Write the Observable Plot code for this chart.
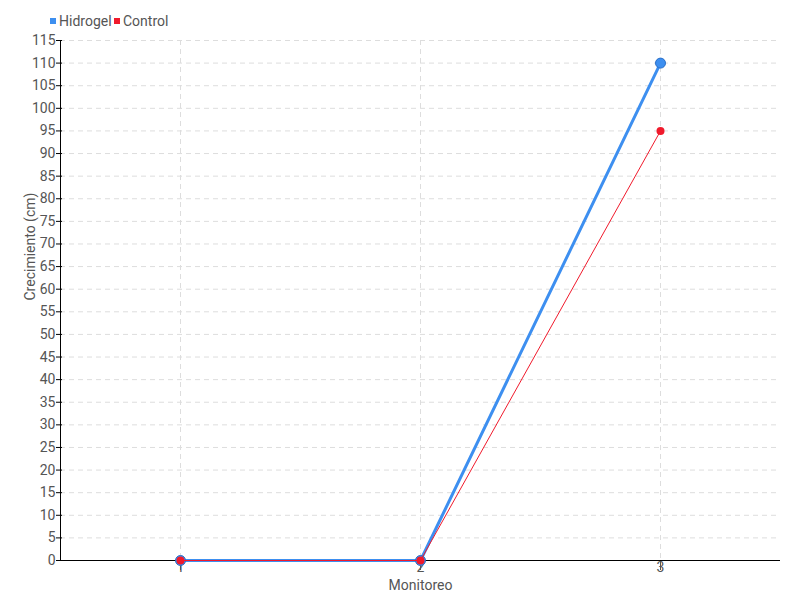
<!DOCTYPE html>
<html>
<head>
<meta charset="utf-8">
<script src="https://cdn.jsdelivr.net/npm/d3@7"></script>
<script src="https://cdn.jsdelivr.net/npm/@observablehq/plot@0.6"></script>
<style>
  body { margin: 0; background: #fff; font-family: Roboto, "DejaVu Sans", sans-serif; }
  #legend { height: 32px; position: relative; font-size: 14px; color: #555; }
  .item { position: absolute; top: 13px; display: flex; align-items: center; }
  .sw { width: 6px; height: 6px; margin-right: 3px; display: inline-block; }
</style>
</head>
<body>
<div id="legend"></div>
<div id="chart"></div>
<script>
const monitoreo = [1, 2, 3];
const hidrogel = [0, 0, 110];
const control = [0, 0, 95];
const seriesNames = ["Hidrogel", "Control"];
const seriesColors = ["#3d8ff0", "#f01a2c"];
const yTicks = d3.range(0, 116, 5);

const dataH = monitoreo.map((m, i) => ({x: m, y: hidrogel[i]}));
const dataC = monitoreo.map((m, i) => ({x: m, y: control[i]}));

const legend = document.getElementById("legend");
const lefts = [50, 114];
seriesNames.forEach((n, i) => {
  const d = document.createElement("div");
  d.className = "item";
  d.style.left = lefts[i] + "px";
  d.innerHTML = `<span class="sw" style="background:${seriesColors[i]}"></span><span>${n}</span>`;
  legend.appendChild(d);
});

const chart = Plot.plot({
  width: 800,
  height: 568,
  marginTop: 8,
  marginBottom: 40,
  marginLeft: 60,
  marginRight: 20,
  style: {fontFamily: 'Roboto, "DejaVu Sans", sans-serif', fontSize: "14px", color: "#555"},
  x: {domain: [0.5, 3.5], ticks: monitoreo, label: null},
  y: {domain: [0, 115], ticks: yTicks, label: null},
  marks: [
    Plot.gridY(yTicks, {stroke: "#ddd", strokeOpacity: 1, strokeDasharray: "5,4"}),
    Plot.gridX(monitoreo, {stroke: "#ddd", strokeOpacity: 1, strokeDasharray: "5,4"}),
    Plot.axisY({ticks: yTicks, tickSize: 6, tickPadding: 1, tickFormat: d => d, stroke: "#000", fill: "#555", dx: 2}),
    Plot.axisX({ticks: monitoreo, tickSize: 10, tickPadding: -8, tickFormat: d => d, stroke: "#555", fill: "#555"}),
    Plot.ruleX([0.5], {stroke: "#000"}),
    Plot.ruleY([0], {stroke: "#000"}),
    Plot.line(dataH, {x: "x", y: "y", stroke: seriesColors[0], strokeWidth: 3}),
    Plot.dot(dataH, {x: "x", y: "y", r: 5, fill: seriesColors[0], stroke: "#2a6fc8", strokeWidth: 1}),
    Plot.line(dataC, {x: "x", y: "y", stroke: seriesColors[1], strokeWidth: 1}),
    Plot.dot(dataC, {x: "x", y: "y", r: 4, fill: seriesColors[1], stroke: "none"}),
    Plot.text(["Monitoreo"], {frameAnchor: "bottom", dy: 29, fill: "#555", fontSize: 14}),
    Plot.text(["Crecimiento (cm)"], {frameAnchor: "left", dx: -30, rotate: -90, fill: "#555", fontSize: 14})
  ]
});
document.getElementById("chart").appendChild(chart);
</script>
</body>
</html>
